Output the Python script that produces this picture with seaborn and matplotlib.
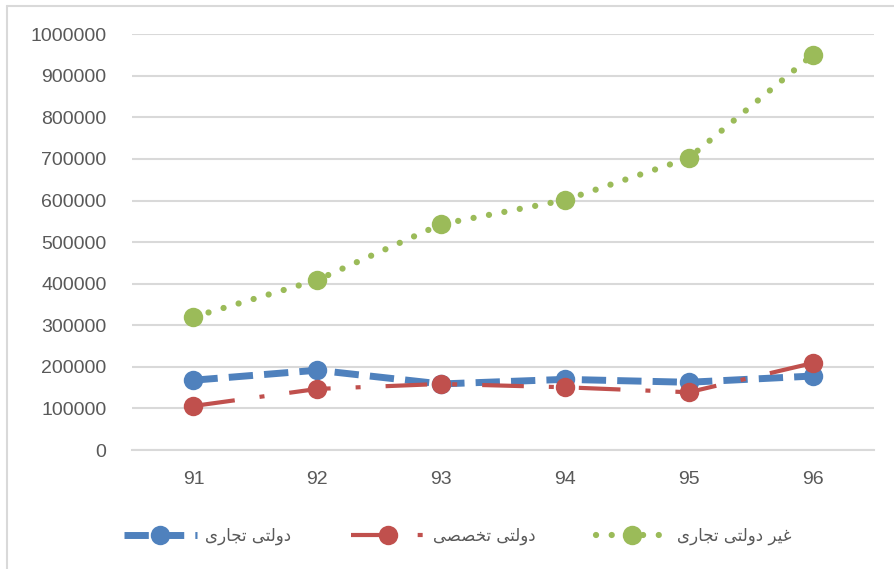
import matplotlib
matplotlib.use('Agg')
import matplotlib.pyplot as plt
import seaborn as sns
import pandas as pd
from matplotlib.lines import Line2D

years = ['91', '92', '93', '94', '95', '96']
state_commercial = [168000, 192000, 159000, 170000, 163000, 178000]
state_specialized = [106000, 147000, 159000, 151000, 139000, 209000]
private_commercial = [320000, 409000, 543000, 601000, 702000, 950000]
labels = ['دولتی تجاری', 'دولتی تخصصی', 'غیر دولتی تجاری']
y_ticks = list(range(0, 1000001, 100000))

# matplotlib has no arabic shaping, so pick presentation forms by hand
# (iso, final, initial, medial); None = no left join
FORMS = {
    'د': ('\uFEA9', '\uFEAA', None, None),
    'و': ('\uFEED', '\uFEEE', None, None),
    'ا': ('\uFE8D', '\uFE8E', None, None),
    'ر': ('\uFEAD', '\uFEAE', None, None),
    'ل': ('\uFEDD', '\uFEDE', '\uFEDF', '\uFEE0'),
    'ت': ('\uFE95', '\uFE96', '\uFE97', '\uFE98'),
    'ج': ('\uFE9D', '\uFE9E', '\uFE9F', '\uFEA0'),
    'خ': ('\uFEA5', '\uFEA6', '\uFEA7', '\uFEA8'),
    'ص': ('\uFEB9', '\uFEBA', '\uFEBB', '\uFEBC'),
    'غ': ('\uFECD', '\uFECE', '\uFECF', '\uFED0'),
    'ی': ('\uFEEF', '\uFEF0', '\uFEF3', '\uFEF4'),
}


def shape(text):
    out = []
    for word in text.split(' '):
        chars = []
        for i, c in enumerate(word):
            f = FORMS.get(c)
            if f is None:
                chars.append(c)
                continue
            prev_j = i > 0 and word[i - 1] in FORMS and FORMS[word[i - 1]][2] is not None
            next_j = f[2] is not None and i + 1 < len(word) and word[i + 1] in FORMS
            if prev_j and next_j:
                chars.append(f[3])
            elif prev_j:
                chars.append(f[1])
            elif next_j:
                chars.append(f[2])
            else:
                chars.append(f[0])
        out.append(''.join(chars))
    return ' '.join(out)[::-1]


sns.set_style('white')
plt.rcParams['font.family'] = ['Liberation Sans', 'DejaVu Sans']

fig = plt.figure(figsize=(8.95, 5.69), dpi=100)
ax = fig.add_axes([0.147, 0.209, 0.83, 0.731])

df = pd.DataFrame({'year': years, 'a': state_commercial,
                   'b': state_specialized, 'c': private_commercial})

sns.lineplot(data=df, x='year', y='a', ax=ax, color='#4F81BD', linewidth=5,
             linestyle=(0, (3.5, 1.6)), marker='o', markersize=14,
             markeredgewidth=0, label=shape(labels[0]), zorder=3)
sns.lineplot(data=df, x='year', y='b', ax=ax, color='#C0504D', linewidth=3,
             linestyle=(0, (10, 6, 1.2, 6)), marker='o', markersize=14,
             markeredgewidth=0, label=shape(labels[1]), zorder=3)
sns.lineplot(data=df, x='year', y='c', ax=ax, color='#9BBB59', linewidth=4.5,
             linestyle=(0, (0.01, 2.5)), dash_capstyle='round', marker='o',
             markersize=14, markeredgewidth=0, label=shape(labels[2]), zorder=3)

ax.set_xlim(-0.5, 5.5)
ax.set_ylim(0, 1000000)
ax.set_yticks(y_ticks)
ax.set_yticklabels([str(v) for v in y_ticks])
ax.yaxis.grid(True, color='#d9d9d9', linewidth=1.5)
ax.set_axisbelow(True)
for s in ['top', 'right', 'left']:
    ax.spines[s].set_visible(False)
ax.spines['bottom'].set_color('#d9d9d9')
ax.spines['bottom'].set_linewidth(1.5)
ax.tick_params(axis='both', length=0, labelsize=14, labelcolor='#595959')
ax.tick_params(axis='y', pad=18)
ax.tick_params(axis='x', pad=15)
ax.set_xlabel('')
ax.set_ylabel('')

ax.legend(loc='upper center', bbox_to_anchor=(0.439, -0.148), ncol=3,
          frameon=False, handlelength=4.4, columnspacing=3.6, handletextpad=0.5,
          prop={'family': ['DejaVu Sans'], 'size': 12}, labelcolor='#595959')

# chart area border (left and top edges visible)
fig.add_artist(Line2D([0.008, 0.008], [0, 0.99], color='#d9d9d9', linewidth=1.5))
fig.add_artist(Line2D([0.008, 1], [0.99, 0.99], color='#d9d9d9', linewidth=1.5))

fig.savefig('out.png', dpi=100)
